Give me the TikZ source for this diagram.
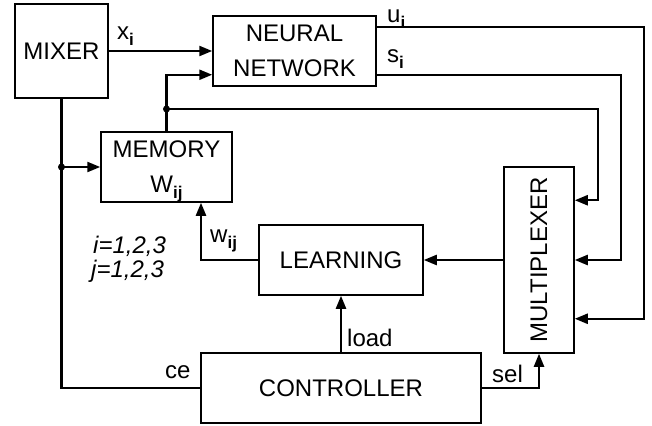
\documentclass[tikz,border=0pt]{standalone}
\usepackage{fontspec}
\setmainfont{Liberation Sans}
\usetikzlibrary{arrows.meta}
\newcommand\sbs[1]{\raisebox{-6pt}{\fontsize{17}{17}\selectfont\bfseries #1}}
\begin{document}
\begin{tikzpicture}[x=1pt,y=-1pt,
  box/.style={draw, line width=1.5pt, rectangle, inner sep=0pt, font=\fontsize{24}{35}\selectfont, align=center},
  conn/.style={line width=2.3pt},
  arr/.style={conn, -{Triangle[length=13pt,width=10pt]}},
  lbl/.style={inner sep=0pt, font=\fontsize{24}{28}\selectfont},
  dot/.style={circle, fill, inner sep=0pt, minimum size=7pt}]
\useasboundingbox (0,0) rectangle (652,425);

\node[box, minimum width=93, minimum height=94] (mixer) at (61.5,51) {MIXER};
\node[box, minimum width=163, minimum height=70, text depth=-4pt] (nn) at (294.5,51) {NEURAL\\NETWORK};
\node[box, minimum width=131, minimum height=70, text depth=-4pt] (mem) at (166.5,167) {MEMORY\\W\sbs{ij}};
\node[box, minimum width=164, minimum height=70] (learn) at (341,260) {LEARNING};
\node[box, minimum width=70, minimum height=186] (mux) at (539,260) {};
\node[lbl, rotate=90] (muxtxt) at (mux.center) {MULTIPLEXER};
\node[box, minimum width=280, minimum height=70] (ctrl) at (341,388) {CONTROLLER};

\coordinate (nnu) at ([yshift=-12pt]nn.north east);
\coordinate (nns) at ([yshift=12pt]nn.south east);
\coordinate (nnin) at ([yshift=12pt]nn.south west);
\coordinate (m1) at ([yshift=-34pt]mux.north east);
\coordinate (m3) at ([yshift=35pt]mux.south east);
\coordinate (j1) at (mem.north |- 0,109);
\coordinate (j2) at (mixer.south |- mem.west);

\draw[arr] (mixer.east) -- (nn.west);
\draw[arr] (mem.north) -- (j1) |- (nnin);
\draw[arr] (j1) -| ([xshift=23pt]m1) -- (m1);
\draw[arr] (nns) -| ([xshift=46pt]mux.east) -- (mux.east);
\draw[arr] (nnu) -| ([xshift=69pt]m3) -- (m3);
\draw[arr] (mux.west) -- (learn.east);
\draw[arr] (learn.west) -| ([xshift=34.5pt]mem.south);
\draw[conn] (mixer.south) |- (ctrl.west);
\draw[arr] (j2) -- (mem.west);
\draw[arr] (ctrl.north) -- (learn.south);
\draw[arr] (ctrl.east) -| (mux.south);
\node[dot] (d1) at (j1) {};
\node[dot] (d2) at (j2) {};

\node[lbl, anchor=base west] (lx) at (117,40) {x\sbs{i}};
\node[lbl, anchor=base west] (lu) at (387,23) {u\sbs{i}};
\node[lbl, anchor=base west] (ls) at (387,63) {s\sbs{i}};
\node[lbl, anchor=base west] (lw) at (210,242) {w\sbs{ij}};
\node[lbl, anchor=base west, font=\fontsize{24}{28}\selectfont\itshape] (li) at (93,253) {i=1,2,3};
\node[lbl, anchor=base west, font=\fontsize{24}{28}\selectfont\itshape] (lj) at (91,277) {j=1,2,3};
\node[lbl, anchor=base west] (lce) at (165,378) {ce};
\node[lbl, anchor=base west] (lload) at (347,346) {load};
\node[lbl, anchor=base west] (lsel) at (492,382) {sel};
\end{tikzpicture}
\end{document}
